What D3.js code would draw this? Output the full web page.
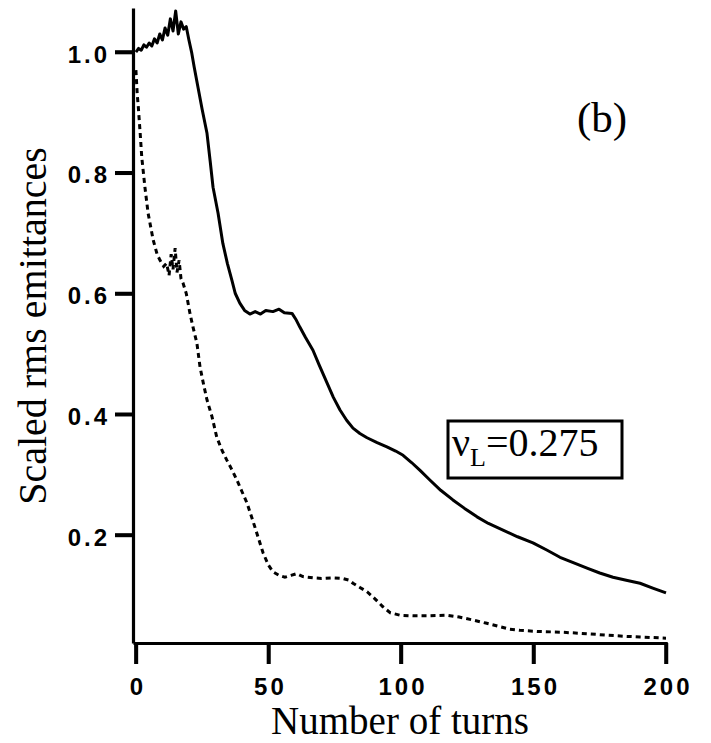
<!DOCTYPE html>
<html>
<head>
<meta charset="utf-8">
<script src="https://cdn.jsdelivr.net/npm/d3@7"></script>
<style>
  body { margin: 0; background: #fff; }
  svg { display: block; }
</style>
</head>
<body>
<svg id="drawing_region"></svg>
<script>
// solid line: emittance, turns
const solidTurns = [0, 1, 2, 3, 4, 5, 6, 7, 8, 9, 10, 11, 12, 13, 14, 15, 16, 17, 18, 19, 20, 21, 22,
    23.4, 25, 26.8, 28, 29.1, 31, 32.8, 34.5, 36.2, 37.5, 39.2, 41, 43, 45, 47, 49, 51.7, 54, 56, 58.9,
    60.5, 61.9, 64, 66.8, 69, 72.1, 74.5, 77, 79.5, 81.9, 84.5, 87.2, 91, 94.7, 98, 100.8, 104, 107.2,
    110.9, 115, 119.6, 124, 128.7, 133, 138.5, 144, 149.8, 155, 160, 165, 170.2, 175, 180, 185, 190.2, 195, 200];
const solidEmit = [1.0, 1.006, 1.003, 1.012, 1.008, 1.015, 1.010, 1.022, 1.015, 1.030, 1.020, 1.040, 1.028,
    1.055, 1.035, 1.068, 1.030, 1.050, 1.038, 1.042, 1.020, 1.000, 0.975,
    0.942, 0.905, 0.866, 0.820, 0.776, 0.733, 0.683, 0.650, 0.622, 0.600, 0.584, 0.572, 0.566, 0.570, 0.566,
    0.572, 0.570, 0.574, 0.568, 0.567, 0.556, 0.544, 0.527, 0.506, 0.483, 0.452, 0.428, 0.407, 0.390, 0.377,
    0.368, 0.361, 0.353, 0.346, 0.339, 0.332, 0.320, 0.307, 0.291, 0.274, 0.258, 0.244, 0.230, 0.219, 0.208,
    0.197, 0.187, 0.175, 0.163, 0.154, 0.145, 0.137, 0.130, 0.125, 0.120, 0.112, 0.104];

// dashed line
const dashedTurns = [0, 0.5, 0.9, 1.6, 2.2, 3.4, 4.6, 6.5, 8, 9.1, 10.5, 11.6, 12.5, 13.3, 14, 14.8, 15.5,
    16.3, 17, 17.8, 19, 20.4, 21.5, 23, 24.2, 25.5, 26.8, 28.7, 30.5, 32.5, 34.3, 36, 38.1, 40, 41.9, 44.9,
    48, 50, 51.7, 54, 56.2, 58.5, 60.7, 63, 66.8, 70, 74.3, 78, 80.5, 81.9, 84.5, 87.2, 90, 93.2, 96, 99.6,
    104.5, 110, 117.4, 122, 127.2, 132, 137.4, 141, 144.9, 152, 160, 168, 177.7, 185, 190.2, 195, 200];
const dashedEmit = [0.97, 0.93, 0.909, 0.866, 0.826, 0.776, 0.733, 0.689, 0.665, 0.655, 0.645, 0.650,
    0.630, 0.665, 0.640, 0.675, 0.635, 0.655, 0.625, 0.617, 0.600, 0.567, 0.545, 0.518, 0.478, 0.450,
    0.424, 0.396, 0.362, 0.340, 0.324, 0.310, 0.291, 0.272, 0.253, 0.213, 0.170, 0.150, 0.139, 0.133,
    0.130, 0.133, 0.136, 0.131, 0.129, 0.128, 0.129, 0.128, 0.125, 0.120, 0.113, 0.106, 0.095, 0.081,
    0.071, 0.067, 0.066, 0.066, 0.067, 0.064, 0.059, 0.054, 0.048, 0.044, 0.042, 0.040, 0.039, 0.037,
    0.034, 0.032, 0.031, 0.030, 0.029];

const xTicks = [0, 50, 100, 150, 200];
const yTicks = [0.2, 0.4, 0.6, 0.8, 1.0];

const serif = "'Liberation Serif', 'Times New Roman', serif";
const sans = "'Liberation Sans', Arial, sans-serif";

const width = 711, height = 743;
const svg = d3.select('#drawing_region')
    .attr('width', width)
    .attr('height', height);

const xscale = d3.scaleLinear().domain([-1.1, 200]).range([133, 666]);
const yscale = d3.scaleLinear().domain([0.021, 1.073]).range([643, 8]);
const x0 = xscale.range()[0];
const y0 = yscale.range()[0];

function styleAxis(g) {
    g.select('.domain')
        .attr('stroke', '#000')
        .attr('stroke-width', 3.2);
    g.selectAll('.tick line')
        .attr('stroke', '#000')
        .attr('stroke-width', 3.5);
    g.selectAll('.tick text')
        .attr('font-family', sans)
        .attr('font-size', 24)
        .attr('font-weight', 'bold')
        .attr('letter-spacing', 3)
        .attr('fill', '#000');
}

// x axis
const xaxis = d3.axisBottom(xscale)
    .tickValues(xTicks)
    .tickSizeInner(21)
    .tickSizeOuter(0)
    .tickPadding(15)
    .tickFormat(d3.format('d'));

const xg = svg.append('g')
    .attr('transform', `translate(0, ${y0})`)
    .call(xaxis);
styleAxis(xg);
xg.selectAll('.tick text')
    .attr('dy', '0.66em')
    .attr('dx', 1.5);

// y axis
const yaxis = d3.axisLeft(yscale)
    .tickValues(yTicks)
    .tickSizeInner(18)
    .tickSizeOuter(0)
    .tickPadding(5)
    .tickFormat(d3.format('.1f'));

const yg = svg.append('g')
    .attr('transform', `translate(${x0}, 0)`)
    .call(yaxis);
styleAxis(yg);
yg.selectAll('.tick text')
    .attr('dy', '0.42em');

// tick marks again, as top-level paths made by the line generator
const tickLine = d3.line();
xTicks.forEach(t => {
    svg.append('path')
        .attr('class', 'xtick')
        .attr('d', tickLine([[xscale(t) - 0.01, y0 - 1], [xscale(t) + 0.01, y0 + 21]]))
        .attr('fill', 'none')
        .attr('stroke', '#000')
        .attr('stroke-width', 3.5);
});
yTicks.forEach(t => {
    svg.append('path')
        .attr('class', 'ytick')
        .attr('d', tickLine([[x0 - 18, yscale(t) - 0.01], [x0 + 1, yscale(t) + 0.01]]))
        .attr('fill', 'none')
        .attr('stroke', '#000')
        .attr('stroke-width', 3.5);
});

// curves
const line = d3.line()
    .x(d => xscale(d[0]))
    .y(d => yscale(d[1]));

svg.append('path')
    .datum(solidTurns.map((t, i) => [t, solidEmit[i]]))
    .attr('d', line)
    .attr('fill', 'none')
    .attr('stroke', '#000')
    .attr('stroke-width', 3)
    .attr('stroke-linejoin', 'round');

svg.append('path')
    .datum(dashedTurns.map((t, i) => [t, dashedEmit[i]]))
    .attr('d', line)
    .attr('fill', 'none')
    .attr('stroke', '#000')
    .attr('stroke-width', 3)
    .attr('stroke-dasharray', '5,4');

// axis titles
svg.append('text')
    .attr('x', 400)
    .attr('y', 734)
    .attr('text-anchor', 'middle')
    .attr('font-family', serif)
    .attr('font-size', 39)
    .attr('fill', '#000')
    .text('Number of turns');

svg.append('text')
    .attr('transform', 'translate(46, 326) rotate(-90)')
    .attr('text-anchor', 'middle')
    .attr('font-family', serif)
    .attr('font-size', 40)
    .attr('fill', '#000')
    .text('Scaled rms emittances');

// panel label
svg.append('text')
    .attr('x', 602)
    .attr('y', 132)
    .attr('text-anchor', 'middle')
    .attr('font-family', serif)
    .attr('font-size', 43)
    .attr('fill', '#000')
    .text('(b)');

// tune box
svg.append('rect')
    .attr('x', 448)
    .attr('y', 421)
    .attr('width', 174)
    .attr('height', 57)
    .attr('fill', '#fff')
    .attr('stroke', '#000')
    .attr('stroke-width', 3);

const tune = svg.append('text')
    .attr('x', 452)
    .attr('y', 456)
    .attr('font-family', serif)
    .attr('font-size', 40)
    .attr('fill', '#000');
tune.append('tspan').text('\u03BD');
tune.append('tspan').attr('font-size', 26).attr('dy', 10).text('L');
tune.append('tspan').attr('dy', -10).text('=0.275');
</script>
</body>
</html>
